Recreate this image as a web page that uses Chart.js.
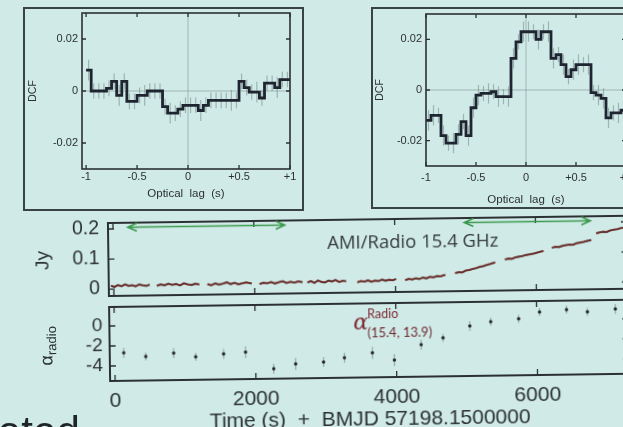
<!DOCTYPE html>
<html>
<head>
<meta charset="utf-8">
<script src="https://cdn.jsdelivr.net/npm/chart.js@4/dist/chart.umd.min.js"></script>
<style>
  html, body { margin: 0; padding: 0; }
  body { width: 623px; height: 427px; overflow: hidden; position: relative; background: #d0eae7; font-family: 'Liberation Sans', Arial, sans-serif; }
  .box { position: absolute; box-sizing: border-box; border: 2px solid #3a4343; }
  .box canvas { display: block; }
  #bottom { position: absolute; left: 0; top: 0; width: 660px; height: 440px; transform: rotate(-0.8deg); transform-origin: 110px 300px; }
  #bottom canvas { position: absolute; left: 0; }
  .txt { position: absolute; white-space: nowrap; line-height: 1; }
</style>
</head>
<body>
<div class="box" style="left:23px;top:7px;width:281px;height:204px"><canvas id="dcfA" width="277" height="200"></canvas></div>
<div class="box" style="left:371px;top:7px;width:300px;height:202px"><canvas id="dcfB" width="296" height="198"></canvas></div>

<div id="bottom">
  <canvas id="fluxchart" width="640" height="85" style="top:215px"></canvas>
  <canvas id="alphachart" width="640" height="136" style="top:300px"></canvas>
  <div class="txt" style="left:328px;top:232px;font:18.5px 'Open Sans';color:#343a3a">AMI/Radio 15.4 GHz</div>
  <div class="txt" style="left:353px;top:313px;font:italic 22px 'DejaVu Serif';color:#7c2b33">α</div>
  <div class="txt" style="left:367px;top:310px;font:12.5px Lato;color:#7c2b33">Radio</div>
  <div class="txt" style="left:367px;top:328px;font:13px Lato;color:#6e2a30">(15.4, 13.9)</div>
  <div class="txt" style="left:46px;top:345px;transform:translate(-50%,-50%) rotate(-90deg);font:18px 'Liberation Sans';color:#2b3133">α<span style="font-size:13px;position:relative;top:4px">radio</span></div>
</div>

<div class="txt" style="left:-2px;top:408px;font:42px 'Liberation Sans';color:#1f2426">ated</div>

<script>
'use strict';

// optical lag bins (left edges, s)
var lagBins = [-1, -0.95, -0.9, -0.85, -0.8, -0.75, -0.7, -0.65, -0.6, -0.55,
  -0.5, -0.45, -0.4, -0.35, -0.3, -0.25, -0.2, -0.15, -0.1, -0.05,
  0, 0.05, 0.1, 0.15, 0.2, 0.25, 0.3, 0.35, 0.4, 0.45,
  0.5, 0.55, 0.6, 0.65, 0.7, 0.75, 0.8, 0.85, 0.9, 0.95];
var dcfA = [0.008, 0, 0, 0, 0.001, 0.0037, -0.0017, 0.0037, -0.004, -0.004,
  -0.0017, -0.0017, 0, 0, 0, -0.006, -0.0085, -0.0085, -0.007, -0.0055,
  -0.0055, -0.0055, -0.0075, -0.0055, -0.0036, -0.0036, -0.0036, -0.0036, -0.0036, -0.0036,
  0.0037, 0.0013, -0.0004, -0.0004, -0.0027, 0.003, 0.003, 0.0013, 0.0044, 0.0044];
var dcfAErr = [0.004, 0.003, 0.003, 0.003, 0.003, 0.003, 0.004, 0.003, 0.003, 0.003,
  0.003, 0.004, 0.003, 0.003, 0.003, 0.003, 0.004, 0.003, 0.003, 0.003,
  0.003, 0.003, 0.004, 0.003, 0.003, 0.003, 0.003, 0.003, 0.004, 0.003,
  0.003, 0.003, 0.003, 0.004, 0.003, 0.003, 0.003, 0.004, 0.003, 0.003];
var dcfB = [-0.012, -0.01, -0.01, -0.018, -0.021, -0.021, -0.0175, -0.0125, -0.018, -0.007,
  -0.002, -0.0013, -0.0013, -0.0007, -0.0026, -0.0026, -0.0026, 0.0125, 0.019, 0.023,
  0.023, 0.023, 0.02, 0.023, 0.023, 0.0125, 0.014, 0.01, 0.0053, 0.008,
  0.01, 0.01, 0.01, -0.001, -0.002, -0.0033, -0.011, -0.009, -0.009, -0.008];
var dcfBErr = [0.004, 0.004, 0.003, 0.004, 0.003, 0.004, 0.004, 0.003, 0.004, 0.004,
  0.004, 0.003, 0.004, 0.003, 0.004, 0.003, 0.004, 0.004, 0.003, 0.004,
  0.004, 0.003, 0.004, 0.003, 0.004, 0.004, 0.003, 0.004, 0.003, 0.004,
  0.004, 0.003, 0.004, 0.003, 0.004, 0.004, 0.004, 0.003, 0.004, 0.004];
var lagTicks = [-1, -0.5, 0, 0.5, 1];
var dcfTicks = [-0.02, 0, 0.02];

// AMI radio light curve, null = gap between scans
var fluxTime = [-40, 10, 60, 110, 160, 210, 260, 310, 360, 410, 460, 510, 560,
  610, 665, 720, 775, 830, 885, 940, 995, 1050, 1105, 1160, 1215, 1270,
  1330, 1385, 1440, 1495, 1550, 1605, 1660, 1715, 1770, 1825, 1880, 1960, 2015,
  2070, 2125, 2180, 2235, 2290, 2345, 2400, 2455, 2510, 2565, 2620, 2680, 2715,
  2750, 2800, 2850, 2900, 2950, 3000, 3050, 3100, 3150, 3200, 3250, 3300, 3380,
  3460, 3510, 3560, 3610, 3660, 3710, 3760, 3810, 3860, 3910, 3960, 4010, 4075,
  4140, 4190, 4240, 4290, 4340, 4390, 4440, 4490, 4540, 4590, 4640, 4710, 4780,
  4850, 4900, 4950, 5000, 5050, 5100, 5150, 5200, 5250, 5300, 5350, 5420, 5490,
  5560, 5610, 5660, 5710, 5760, 5810, 5860, 5910, 5960, 6010, 6060, 6110, 6170,
  6230, 6280, 6330, 6380, 6430, 6480, 6530, 6580, 6630, 6680, 6730, 6790, 6825,
  6860, 6910, 6960, 7010, 7060, 7110, 7160, 7210, 7260, 7310, 7360, 7470];
var fluxJy = [0.011, 0.007, 0.013, 0.009, 0.015, 0.010, 0.012, 0.008, 0.014, 0.011, 0.009, 0.013, null,
  0.009, 0.013, 0.010, 0.015, 0.011, 0.014, 0.009, 0.016, 0.012, 0.010, 0.014, 0.011, null,
  0.012, 0.008, 0.014, 0.010, 0.013, 0.017, 0.011, 0.015, 0.010, 0.013, 0.016, 0.012, null,
  0.010, 0.014, 0.012, 0.016, 0.011, 0.015, 0.018, 0.012, 0.016, 0.013, 0.017, 0.014, null,
  0.013, 0.017, 0.011, 0.019, 0.014, 0.012, 0.018, 0.015, 0.020, 0.013, 0.017, 0.015, null,
  0.011, 0.015, 0.013, 0.017, 0.012, 0.016, 0.014, 0.019, 0.015, 0.018, 0.016, 0.020, null,
  0.016, 0.020, 0.018, 0.022, 0.019, 0.024, 0.021, 0.026, 0.024, 0.028, 0.027, 0.032, null,
  0.037, 0.040, 0.039, 0.045, 0.047, 0.050, 0.053, 0.057, 0.059, 0.063, 0.066, 0.071, null,
  0.080, 0.083, 0.082, 0.087, 0.089, 0.091, 0.094, 0.096, 0.098, 0.101, 0.104, 0.107, null,
  0.117, 0.120, 0.119, 0.123, 0.125, 0.127, 0.126, 0.131, 0.133, 0.135, 0.138, 0.141, null,
  0.163, 0.166, 0.168, 0.167, 0.172, 0.174, 0.176, 0.179, 0.181, 0.184, 0.186, 0.191];
var fluxTicks = [0, 0.1, 0.2];
var arrowFrom = [210, 4990];
var arrowTo = [2440, 6780];
var arrowJy = [0.205, 0.205];

// radio spectral index 15.4 / 13.9 GHz
var alphaTime = [128, 440, 837, 1149, 1546, 1858, 2255, 2567, 2964, 3261, 3659,
  3970, 4353, 4665, 5048, 5346, 5743, 6041, 6424, 6721, 7118];
var alphaVal = [-2.7, -3.1, -2.8, -3.2, -2.95, -2.8, -4.5, -4.05, -3.9, -3.5, -3.05,
  -3.8, -2.3, -1.65, -0.5, -0.1, 0.15, 0.8, 1.0, 0.75, 1.0];
var alphaErr = [0.5, 0.4, 0.5, 0.4, 0.5, 0.6, 0.5, 0.6, 0.5, 0.5, 0.6,
  0.6, 0.5, 0.4, 0.5, 0.4, 0.4, 0.4, 0.4, 0.4, 0.5];
var timeTicks = [0, 2000, 4000, 6000];
var alphaTicks = [-4, -2, 0];

Chart.defaults.font.family = "'Liberation Sans', Arial, sans-serif";
Chart.defaults.color = '#2b3133';
Chart.defaults.animation = false;
Chart.defaults.plugins.legend.display = false;
Chart.defaults.plugins.tooltip.enabled = false;

// fixed axis sizes, no extra room for overhanging labels
function fixX(h) {
  return function(s) { s.height = h; s.paddingLeft = 0; s.paddingRight = 0; };
}
function fixY(w) {
  return function(s) { s.width = w; s.paddingTop = 0; s.paddingBottom = 0; };
}
function setTicks(list) {
  return function(s) { s.ticks = list.map(function(v) { return {value: v}; }); };
}

// frame round the plot area with short inward ticks on every side
var frameTicks = {
  id: 'frameTicks',
  afterDatasetsDraw: function(chart, args, opts) {
    var ctx = chart.ctx, a = chart.chartArea, x = chart.scales.x, y = chart.scales.y;
    ctx.save();
    ctx.strokeStyle = '#2b3133';
    ctx.lineWidth = opts.width;
    ctx.strokeRect(a.left, a.top, a.right - a.left, a.bottom - a.top);
    ctx.lineWidth = 1.3;
    ctx.beginPath();
    x.ticks.forEach(function(t) {
      var px = x.getPixelForValue(t.value);
      ctx.moveTo(px, a.top); ctx.lineTo(px, a.top + opts.len);
      ctx.moveTo(px, a.bottom); ctx.lineTo(px, a.bottom - opts.len);
    });
    y.ticks.forEach(function(t) {
      var py = y.getPixelForValue(t.value);
      ctx.moveTo(a.left, py); ctx.lineTo(a.left + opts.len, py);
      ctx.moveTo(a.right, py); ctx.lineTo(a.right - opts.len, py);
    });
    ctx.stroke();
    ctx.restore();
  }
};

// vertical error bars and zero lines, drawn under the data
var errBars = {
  id: 'errBars',
  beforeDatasetsDraw: function(chart, args, opts) {
    var ctx = chart.ctx, a = chart.chartArea, x = chart.scales.x, y = chart.scales.y;
    ctx.save();
    ctx.beginPath();
    ctx.rect(a.left, a.top, a.right - a.left, a.bottom - a.top);
    ctx.clip();
    if (opts.zero) {
      ctx.strokeStyle = 'rgba(120,140,140,0.55)';
      ctx.lineWidth = 1;
      ctx.beginPath();
      ctx.moveTo(a.left, y.getPixelForValue(0)); ctx.lineTo(a.right, y.getPixelForValue(0));
      ctx.moveTo(x.getPixelForValue(0), a.top); ctx.lineTo(x.getPixelForValue(0), a.bottom);
      ctx.stroke();
    }
    ctx.strokeStyle = opts.color;
    ctx.lineWidth = 1.2;
    ctx.beginPath();
    opts.xs.forEach(function(v, i) {
      var px = x.getPixelForValue(v + opts.shift);
      ctx.moveTo(px, y.getPixelForValue(opts.ys[i] - opts.errs[i]));
      ctx.lineTo(px, y.getPixelForValue(opts.ys[i] + opts.errs[i]));
    });
    ctx.stroke();
    ctx.restore();
  }
};

// green double arrows over the flux panel
var arrows = {
  id: 'arrows',
  afterDatasetsDraw: function(chart) {
    var ctx = chart.ctx, x = chart.scales.x, y = chart.scales.y;
    ctx.save();
    ctx.strokeStyle = '#3c9a4e';
    ctx.lineWidth = 1.6;
    ctx.beginPath();
    arrowFrom.forEach(function(v, i) {
      var x0 = x.getPixelForValue(v), x1 = x.getPixelForValue(arrowTo[i]), py = y.getPixelForValue(arrowJy[i]);
      ctx.moveTo(x0, py); ctx.lineTo(x1, py);
      ctx.moveTo(x0 + 9, py - 4); ctx.lineTo(x0, py); ctx.lineTo(x0 + 9, py + 4);
      ctx.moveTo(x1 - 9, py - 4); ctx.lineTo(x1, py); ctx.lineTo(x1 - 9, py + 4);
    });
    ctx.stroke();
    ctx.restore();
  }
};

function stepData(vals) {
  var pts = lagBins.map(function(b, i) { return {x: b, y: vals[i]}; });
  pts.push({x: 1, y: vals[vals.length - 1]});
  return pts;
}

function dcfChart(id, vals, errs, cfg) {
  return new Chart(document.getElementById(id), {
    type: 'line',
    data: {
      datasets: [{
        data: stepData(vals),
        stepped: true,
        borderColor: '#1e2430',
        borderWidth: 2.8,
        pointRadius: 0
      }]
    },
    options: {
      responsive: false,
      devicePixelRatio: 1,
      layout: {padding: {top: cfg.top, right: cfg.right, left: 0, bottom: 0}},
      scales: {
        x: {
          type: 'linear', min: cfg.xmin, max: 1,
          afterBuildTicks: setTicks(lagTicks),
          afterFit: fixX(cfg.xh),
          grid: {display: false, drawTicks: false},
          border: {display: false},
          ticks: {font: {size: 11}, padding: cfg.tickPad, maxRotation: 0,
            callback: function(v) { return v > 0 ? '+' + v : String(v); }},
          title: {display: true, text: 'Optical  lag  (s)', font: {size: 11.5}, padding: {top: 0, bottom: cfg.titlePad}}
        },
        y: {
          min: -0.03, max: 0.03,
          afterBuildTicks: setTicks(dcfTicks),
          afterFit: fixY(cfg.yw),
          grid: {display: false, drawTicks: false},
          border: {display: false},
          ticks: {font: {size: 11}, padding: 4,
            callback: function(v) { return v === 0 ? '0' : v.toFixed(2); }},
          title: {display: true, text: 'DCF', font: {size: 10.5}, padding: {top: cfg.dcfPad, bottom: 0}}
        }
      },
      plugins: {
        frameTicks: {len: 4, width: 1.6},
        errBars: {xs: lagBins, ys: vals, errs: errs, shift: 0.025, color: 'rgba(115,135,135,0.55)', zero: true}
      }
    },
    plugins: [errBars, frameTicks]
  });
}

dcfChart('dcfA', dcfA, dcfAErr, {top: 4, right: 12, xmin: -1.04, xh: 40, yw: 57, tickPad: 1, titlePad: 8, dcfPad: 2});
dcfChart('dcfB', dcfB, dcfBErr, {top: 5, right: 43, xmin: -1, xh: 41, yw: 53, tickPad: 5, titlePad: 0, dcfPad: 1});

var timeMin = -71, timeMax = 7300;

var fluxPoints = fluxTime.map(function(t, i) { return {x: t, y: fluxJy[i]}; });

new Chart(document.getElementById('fluxchart'), {
  type: 'line',
  data: {
    datasets: [{
      data: fluxPoints,
      borderColor: 'rgba(70,35,35,0.75)',
      borderWidth: 2.1,
      pointRadius: 0,
      spanGaps: false
    }, {
      data: fluxPoints,
      borderColor: '#d83c2a',
      borderWidth: 1.4,
      pointRadius: 0,
      spanGaps: false
    }]
  },
  options: {
    responsive: false,
    devicePixelRatio: 1,
    layout: {padding: {top: 8, right: 12, left: 0, bottom: 4}},
    scales: {
      x: {
        type: 'linear', min: timeMin, max: timeMax,
        afterBuildTicks: setTicks(timeTicks),
        afterFit: fixX(0),
        grid: {display: false, drawTicks: false},
        border: {display: false},
        ticks: {display: false}
      },
      y: {
        min: -0.023, max: 0.22,
        afterBuildTicks: setTicks(fluxTicks),
        afterFit: fixY(109),
        grid: {display: false, drawTicks: false},
        border: {display: false},
        ticks: {font: {size: 19.5}, padding: 9,
          callback: function(v) { return v === 0 ? '0' : v.toFixed(1); }},
        title: {display: true, text: 'Jy', font: {size: 19}, padding: {top: 32, bottom: 0}}
      }
    },
    plugins: {
      frameTicks: {len: 6, width: 2}
    }
  },
  plugins: [frameTicks, arrows]
});

new Chart(document.getElementById('alphachart'), {
  type: 'scatter',
  data: {
    datasets: [{
      data: alphaTime.map(function(t, i) { return {x: t, y: alphaVal[i]}; }),
      backgroundColor: '#262a2a',
      borderWidth: 0,
      pointRadius: 1.7
    }]
  },
  options: {
    responsive: false,
    devicePixelRatio: 1,
    layout: {padding: {top: 7, right: 12, left: 0, bottom: 0}},
    scales: {
      x: {
        type: 'linear', min: timeMin, max: timeMax,
        afterBuildTicks: setTicks(timeTicks),
        afterFit: fixX(55),
        grid: {display: false, drawTicks: false},
        border: {display: false},
        ticks: {font: {size: 21}, padding: 8, maxRotation: 0,
          callback: function(v) { return String(v); }},
        title: {display: true, text: 'Time (s)  +  BMJD 57198.1500000', font: {size: 21}, padding: {top: 0, bottom: 0}}
      },
      y: {
        min: -5.5, max: 1.9,
        afterBuildTicks: setTicks(alphaTicks),
        afterFit: fixY(109),
        grid: {display: false, drawTicks: false},
        border: {display: false},
        ticks: {font: {size: 19}, padding: 7,
          callback: function(v) { return String(v); }}
      }
    },
    plugins: {
      frameTicks: {len: 6, width: 2},
      errBars: {xs: alphaTime, ys: alphaVal, errs: alphaErr, shift: 0, color: 'rgba(105,120,120,0.55)', zero: false}
    }
  },
  plugins: [errBars, frameTicks]
});
</script>
</body>
</html>
